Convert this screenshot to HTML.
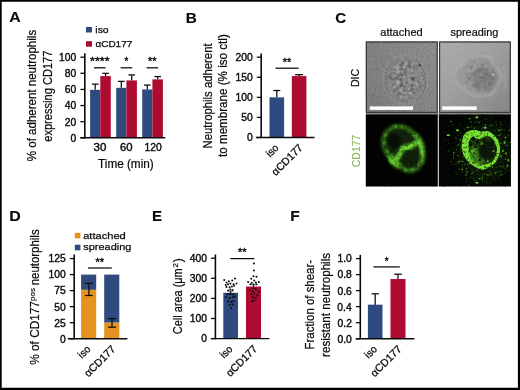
<!DOCTYPE html>
<html lang="en"><head><meta charset="utf-8"><title>Figure</title>
<style>
html,body{margin:0;padding:0;background:#fff;}
body{width:520px;height:390px;overflow:hidden;position:relative;}
svg{position:absolute;left:0;top:0;display:block;}
svg text{font-family:"Liberation Sans",sans-serif;fill:#0a0a0a;stroke:#0a0a0a;stroke-width:0.38px;}
</style></head><body>
<svg width="520" height="390" viewBox="0 0 520 390">
<rect x="0" y="0" width="520" height="390" fill="#fff"/>
<text x="9.2" y="21.9" font-size="15" textLength="11.43" lengthAdjust="spacingAndGlyphs" style="stroke-width:0.15px;" font-weight="bold">A</text>
<text x="185.81" y="22.7" font-size="15" textLength="11.04" lengthAdjust="spacingAndGlyphs" style="stroke-width:0.15px;" font-weight="bold">B</text>
<text x="335.19" y="22.9" font-size="15" textLength="11.03" lengthAdjust="spacingAndGlyphs" style="stroke-width:0.15px;" font-weight="bold">C</text>
<text x="9.36" y="220.8" font-size="15" textLength="11.51" lengthAdjust="spacingAndGlyphs" style="stroke-width:0.15px;" font-weight="bold">D</text>
<text x="152.12" y="220.6" font-size="15" textLength="10.03" lengthAdjust="spacingAndGlyphs" style="stroke-width:0.15px;" font-weight="bold">E</text>
<text x="290.29" y="220.6" font-size="15" textLength="9.46" lengthAdjust="spacingAndGlyphs" style="stroke-width:0.15px;" font-weight="bold">F</text>
<line x1="95.2" y1="84.12" x2="95.2" y2="89.84" stroke="#0a0a0a" stroke-width="1.25"/>
<line x1="91.9" y1="84.12" x2="98.5" y2="84.12" stroke="#0a0a0a" stroke-width="1.25"/>
<line x1="105.6" y1="73.32" x2="105.6" y2="76.06" stroke="#0a0a0a" stroke-width="1.25"/>
<line x1="102.3" y1="73.32" x2="108.9" y2="73.32" stroke="#0a0a0a" stroke-width="1.25"/>
<rect x="90.1" y="89.84" width="10.2" height="47.96" fill="#2f4a7e"/>
<rect x="100.3" y="76.06" width="10.5" height="61.74" fill="#ad0b30"/>
<line x1="121.3" y1="81.38" x2="121.3" y2="87.83" stroke="#0a0a0a" stroke-width="1.25"/>
<line x1="118" y1="81.38" x2="124.6" y2="81.38" stroke="#0a0a0a" stroke-width="1.25"/>
<line x1="131.7" y1="74.93" x2="131.7" y2="80.41" stroke="#0a0a0a" stroke-width="1.25"/>
<line x1="128.4" y1="74.93" x2="135" y2="74.93" stroke="#0a0a0a" stroke-width="1.25"/>
<rect x="116.2" y="87.83" width="10.2" height="49.97" fill="#2f4a7e"/>
<rect x="126.4" y="80.41" width="10.5" height="57.39" fill="#ad0b30"/>
<line x1="147.3" y1="85.09" x2="147.3" y2="89.44" stroke="#0a0a0a" stroke-width="1.25"/>
<line x1="144" y1="85.09" x2="150.6" y2="85.09" stroke="#0a0a0a" stroke-width="1.25"/>
<line x1="157.7" y1="76.54" x2="157.7" y2="79.37" stroke="#0a0a0a" stroke-width="1.25"/>
<line x1="154.4" y1="76.54" x2="161" y2="76.54" stroke="#0a0a0a" stroke-width="1.25"/>
<rect x="142.2" y="89.44" width="10.2" height="48.36" fill="#2f4a7e"/>
<rect x="152.4" y="79.37" width="10.5" height="58.44" fill="#ad0b30"/>
<line x1="84.8" y1="53.2" x2="84.8" y2="138.4" stroke="#0a0a0a" stroke-width="1.6"/>
<line x1="80.4" y1="137.8" x2="165.3" y2="137.8" stroke="#0a0a0a" stroke-width="1.45"/>
<line x1="80.4" y1="137.8" x2="84.8" y2="137.8" stroke="#0a0a0a" stroke-width="1.3"/>
<text x="70.54" y="141.66" font-size="10.3" textLength="5.73" lengthAdjust="spacingAndGlyphs">0</text>
<line x1="80.4" y1="121.68" x2="84.8" y2="121.68" stroke="#0a0a0a" stroke-width="1.3"/>
<text x="64.83" y="125.54" font-size="10.3" textLength="11.46" lengthAdjust="spacingAndGlyphs">20</text>
<line x1="80.4" y1="105.56" x2="84.8" y2="105.56" stroke="#0a0a0a" stroke-width="1.3"/>
<text x="64.83" y="109.42" font-size="10.3" textLength="11.46" lengthAdjust="spacingAndGlyphs">40</text>
<line x1="80.4" y1="89.44" x2="84.8" y2="89.44" stroke="#0a0a0a" stroke-width="1.3"/>
<text x="64.83" y="93.3" font-size="10.3" textLength="11.46" lengthAdjust="spacingAndGlyphs">60</text>
<line x1="80.4" y1="73.32" x2="84.8" y2="73.32" stroke="#0a0a0a" stroke-width="1.3"/>
<text x="64.83" y="77.18" font-size="10.3" textLength="11.46" lengthAdjust="spacingAndGlyphs">80</text>
<line x1="80.4" y1="57.2" x2="84.8" y2="57.2" stroke="#0a0a0a" stroke-width="1.3"/>
<text x="59.11" y="61.06" font-size="10.3" textLength="17.19" lengthAdjust="spacingAndGlyphs">100</text>
<text x="93.6" y="151" font-size="10.3" textLength="12.83" lengthAdjust="spacingAndGlyphs">30</text>
<text x="120.03" y="151" font-size="10.3" textLength="12.59" lengthAdjust="spacingAndGlyphs">60</text>
<text x="144.42" y="151" font-size="10.3" textLength="17.38" lengthAdjust="spacingAndGlyphs">120</text>
<text x="98.07" y="168" font-size="12.1" textLength="55.6" lengthAdjust="spacingAndGlyphs" style="stroke-width:0.22px;">Time (min)</text>
<line x1="94" y1="67.8" x2="105.6" y2="67.8" stroke="#0a0a0a" stroke-width="1.25"/>
<text x="90.11" y="65.4" font-size="10" textLength="19.39" lengthAdjust="spacingAndGlyphs" style="stroke-width:0.35px;">****</text>
<line x1="120.7" y1="67.8" x2="132.3" y2="67.8" stroke="#0a0a0a" stroke-width="1.25"/>
<text x="124.6" y="65.4" font-size="10" textLength="3.78" lengthAdjust="spacingAndGlyphs" style="stroke-width:0.35px;">*</text>
<line x1="146.5" y1="67.8" x2="158.1" y2="67.8" stroke="#0a0a0a" stroke-width="1.25"/>
<text x="148.04" y="65.4" font-size="10" textLength="8.51" lengthAdjust="spacingAndGlyphs" style="stroke-width:0.35px;">**</text>
<rect x="86" y="27" width="6" height="5.5" fill="#2f4a7e"/>
<text x="95.32" y="32.8" font-size="9.9" textLength="13.33" lengthAdjust="spacingAndGlyphs" style="stroke-width:0.25px;">iso</text>
<rect x="86" y="41.2" width="6" height="5.5" fill="#ad0b30"/>
<text x="95.4" y="47" font-size="9.9" textLength="36.91" lengthAdjust="spacingAndGlyphs" style="stroke-width:0.25px;">αCD177</text>
<text transform="translate(36.4 160.8) rotate(-90)" x="-0.4" y="0" font-size="12.1" textLength="131.33" lengthAdjust="spacingAndGlyphs" style="stroke-width:0.22px;">% of adherent neutrophils</text>
<text transform="translate(52.2 141.3) rotate(-90)" x="-0.44" y="0" font-size="12.1" textLength="91.12" lengthAdjust="spacingAndGlyphs" style="stroke-width:0.22px;">expressing CD177</text>
<line x1="276.8" y1="90.52" x2="276.8" y2="97.35" stroke="#0a0a0a" stroke-width="1.25"/>
<line x1="273.3" y1="90.52" x2="280.3" y2="90.52" stroke="#0a0a0a" stroke-width="1.25"/>
<rect x="269.5" y="97.35" width="14.6" height="40.15" fill="#2f4a7e"/>
<line x1="299.1" y1="74.67" x2="299.1" y2="76.07" stroke="#0a0a0a" stroke-width="1.25"/>
<line x1="295.1" y1="74.67" x2="303.1" y2="74.67" stroke="#0a0a0a" stroke-width="1.25"/>
<rect x="291.8" y="76.07" width="14.6" height="61.43" fill="#ad0b30"/>
<line x1="261.2" y1="53.5" x2="261.2" y2="138.1" stroke="#0a0a0a" stroke-width="1.6"/>
<line x1="255.9" y1="137.5" x2="314.5" y2="137.5" stroke="#0a0a0a" stroke-width="1.45"/>
<line x1="256.8" y1="137.5" x2="261.2" y2="137.5" stroke="#0a0a0a" stroke-width="1.3"/>
<text x="246.94" y="141.36" font-size="10.3" textLength="5.73" lengthAdjust="spacingAndGlyphs">0</text>
<line x1="256.8" y1="117.42" x2="261.2" y2="117.42" stroke="#0a0a0a" stroke-width="1.3"/>
<text x="241.23" y="121.29" font-size="10.3" textLength="11.46" lengthAdjust="spacingAndGlyphs">50</text>
<line x1="256.8" y1="97.35" x2="261.2" y2="97.35" stroke="#0a0a0a" stroke-width="1.3"/>
<text x="235.51" y="101.21" font-size="10.3" textLength="17.19" lengthAdjust="spacingAndGlyphs">100</text>
<line x1="256.8" y1="77.28" x2="261.2" y2="77.28" stroke="#0a0a0a" stroke-width="1.3"/>
<text x="235.51" y="81.14" font-size="10.3" textLength="17.19" lengthAdjust="spacingAndGlyphs">150</text>
<line x1="256.8" y1="57.2" x2="261.2" y2="57.2" stroke="#0a0a0a" stroke-width="1.3"/>
<text x="235.51" y="61.06" font-size="10.3" textLength="17.19" lengthAdjust="spacingAndGlyphs">200</text>
<line x1="275.5" y1="68.2" x2="298.6" y2="68.2" stroke="#0a0a0a" stroke-width="1.25"/>
<text x="282.79" y="65.8" font-size="10" textLength="8.51" lengthAdjust="spacingAndGlyphs" style="stroke-width:0.35px;">**</text>
<text transform="translate(279 148.9) rotate(-45)" x="-12.46" y="0" font-size="10.4" textLength="12.9" lengthAdjust="spacingAndGlyphs" style="stroke-width:0.28px;">iso</text>
<text transform="translate(303.1 148.9) rotate(-45)" x="-38.58" y="0" font-size="10.6" textLength="39.12" lengthAdjust="spacingAndGlyphs" style="stroke-width:0.28px;">αCD177</text>
<text transform="translate(211.9 147.6) rotate(-90)" x="-0.91" y="0" font-size="12.1" textLength="105.11" lengthAdjust="spacingAndGlyphs" style="stroke-width:0.22px;">Neutrophils adherent</text>
<text transform="translate(227.4 156.8) rotate(-90)" x="-0.17" y="0" font-size="12.1" textLength="122.72" lengthAdjust="spacingAndGlyphs" style="stroke-width:0.22px;">to membrane (% iso ctl)</text>
<rect x="81.1" y="274.6" width="15.1" height="15.26" fill="#2f4a7e"/>
<rect x="81.1" y="289.86" width="15.1" height="48.84" fill="#e5921f"/>
<rect x="104.2" y="274.6" width="15.1" height="48.07" fill="#2f4a7e"/>
<rect x="104.2" y="322.68" width="15.1" height="16.02" fill="#e5921f"/>
<line x1="88.9" y1="283.4" x2="88.9" y2="295.5" stroke="#0a0a0a" stroke-width="1.2"/>
<line x1="84.9" y1="283.4" x2="92.9" y2="283.4" stroke="#0a0a0a" stroke-width="1.2"/>
<line x1="84.9" y1="295.5" x2="92.9" y2="295.5" stroke="#0a0a0a" stroke-width="1.2"/>
<line x1="112" y1="318.7" x2="112" y2="327.2" stroke="#0a0a0a" stroke-width="1.2"/>
<line x1="108" y1="318.7" x2="116" y2="318.7" stroke="#0a0a0a" stroke-width="1.2"/>
<line x1="108" y1="327.2" x2="116" y2="327.2" stroke="#0a0a0a" stroke-width="1.2"/>
<line x1="74.2" y1="254.5" x2="74.2" y2="339.3" stroke="#0a0a0a" stroke-width="1.6"/>
<line x1="67.8" y1="338.7" x2="127.4" y2="338.7" stroke="#0a0a0a" stroke-width="1.45"/>
<line x1="69.8" y1="338.7" x2="74.2" y2="338.7" stroke="#0a0a0a" stroke-width="1.3"/>
<text x="59.94" y="342.56" font-size="10.3" textLength="5.73" lengthAdjust="spacingAndGlyphs">0</text>
<line x1="69.8" y1="322.68" x2="74.2" y2="322.68" stroke="#0a0a0a" stroke-width="1.3"/>
<text x="54.28" y="326.54" font-size="10.3" textLength="11.46" lengthAdjust="spacingAndGlyphs">25</text>
<line x1="69.8" y1="306.65" x2="74.2" y2="306.65" stroke="#0a0a0a" stroke-width="1.3"/>
<text x="54.23" y="310.51" font-size="10.3" textLength="11.46" lengthAdjust="spacingAndGlyphs">50</text>
<line x1="69.8" y1="290.62" x2="74.2" y2="290.62" stroke="#0a0a0a" stroke-width="1.3"/>
<text x="54.28" y="294.49" font-size="10.3" textLength="11.46" lengthAdjust="spacingAndGlyphs">75</text>
<line x1="69.8" y1="274.6" x2="74.2" y2="274.6" stroke="#0a0a0a" stroke-width="1.3"/>
<text x="48.51" y="278.46" font-size="10.3" textLength="17.19" lengthAdjust="spacingAndGlyphs">100</text>
<line x1="69.8" y1="258.58" x2="74.2" y2="258.58" stroke="#0a0a0a" stroke-width="1.3"/>
<text x="48.56" y="262.44" font-size="10.3" textLength="17.19" lengthAdjust="spacingAndGlyphs">125</text>
<line x1="87.9" y1="268" x2="111.8" y2="268" stroke="#0a0a0a" stroke-width="1.25"/>
<text x="95.59" y="265.6" font-size="10" textLength="8.51" lengthAdjust="spacingAndGlyphs" style="stroke-width:0.35px;">**</text>
<text transform="translate(90.9 350.1) rotate(-45)" x="-12.46" y="0" font-size="10.4" textLength="12.9" lengthAdjust="spacingAndGlyphs" style="stroke-width:0.28px;">iso</text>
<text transform="translate(115.8 350.1) rotate(-45)" x="-38.58" y="0" font-size="10.6" textLength="39.12" lengthAdjust="spacingAndGlyphs" style="stroke-width:0.28px;">αCD177</text>
<rect x="74.8" y="232.8" width="5.6" height="5.6" fill="#e5921f"/>
<text x="83.16" y="238.6" font-size="9.9" textLength="42.63" lengthAdjust="spacingAndGlyphs" style="stroke-width:0.25px;">attached</text>
<rect x="74.8" y="244.7" width="5.6" height="5.6" fill="#2f4a7e"/>
<text x="83.33" y="250" font-size="9.9" textLength="47.95" lengthAdjust="spacingAndGlyphs" style="stroke-width:0.25px;">spreading</text>
<text transform="translate(39.1 364.3) rotate(-90)" x="-0.41" y="0" font-size="12.1" textLength="63.62" lengthAdjust="spacingAndGlyphs" style="stroke-width:0.22px;">% of CD177</text>
<text transform="translate(34.8 300.4) rotate(-90)" x="-0.52" y="0" font-size="8.0" textLength="12.81" lengthAdjust="spacingAndGlyphs" style="stroke-width:0.15px;">pos</text>
<text transform="translate(39.1 284.6) rotate(-90)" x="-0.74" y="0" font-size="12.1" textLength="55.97" lengthAdjust="spacingAndGlyphs" style="stroke-width:0.22px;">neutorphils</text>
<rect x="223.3" y="292.77" width="14.7" height="45.83" fill="#2f4a7e"/>
<rect x="246" y="286.54" width="15" height="52.06" fill="#ad0b30"/>
<line x1="230.7" y1="291.16" x2="230.7" y2="294.38" stroke="#0a0a0a" stroke-width="0.8"/>
<line x1="228.7" y1="291.16" x2="232.7" y2="291.16" stroke="#0a0a0a" stroke-width="0.8"/>
<line x1="228.7" y1="294.38" x2="232.7" y2="294.38" stroke="#0a0a0a" stroke-width="0.8"/>
<line x1="253.5" y1="284.73" x2="253.5" y2="288.35" stroke="#0a0a0a" stroke-width="0.8"/>
<line x1="251.5" y1="284.73" x2="255.5" y2="284.73" stroke="#0a0a0a" stroke-width="0.8"/>
<line x1="251.5" y1="288.35" x2="255.5" y2="288.35" stroke="#0a0a0a" stroke-width="0.8"/>
<line x1="215.4" y1="254.5" x2="215.4" y2="339.2" stroke="#0a0a0a" stroke-width="1.6"/>
<line x1="210.8" y1="338.6" x2="269.4" y2="338.6" stroke="#0a0a0a" stroke-width="1.45"/>
<line x1="211" y1="338.6" x2="215.4" y2="338.6" stroke="#0a0a0a" stroke-width="1.3"/>
<text x="201.14" y="342.46" font-size="10.3" textLength="5.73" lengthAdjust="spacingAndGlyphs">0</text>
<line x1="211" y1="318.5" x2="215.4" y2="318.5" stroke="#0a0a0a" stroke-width="1.3"/>
<text x="189.71" y="322.36" font-size="10.3" textLength="17.19" lengthAdjust="spacingAndGlyphs">100</text>
<line x1="211" y1="298.4" x2="215.4" y2="298.4" stroke="#0a0a0a" stroke-width="1.3"/>
<text x="189.71" y="302.26" font-size="10.3" textLength="17.19" lengthAdjust="spacingAndGlyphs">200</text>
<line x1="211" y1="278.3" x2="215.4" y2="278.3" stroke="#0a0a0a" stroke-width="1.3"/>
<text x="189.71" y="282.16" font-size="10.3" textLength="17.19" lengthAdjust="spacingAndGlyphs">300</text>
<line x1="211" y1="258.2" x2="215.4" y2="258.2" stroke="#0a0a0a" stroke-width="1.3"/>
<text x="189.71" y="262.06" font-size="10.3" textLength="17.19" lengthAdjust="spacingAndGlyphs">400</text>
<line x1="230.4" y1="258.6" x2="254.3" y2="258.6" stroke="#0a0a0a" stroke-width="1.25"/>
<text x="238.09" y="256.2" font-size="10" textLength="8.51" lengthAdjust="spacingAndGlyphs" style="stroke-width:0.35px;">**</text>
<circle cx="224.2" cy="279.9" r="1" fill="#0a0a0a"/>
<circle cx="226.5" cy="282.4" r="1" fill="#0a0a0a"/>
<circle cx="228.8" cy="281.2" r="1" fill="#0a0a0a"/>
<circle cx="235.0" cy="278.4" r="1" fill="#0a0a0a"/>
<circle cx="232.2" cy="280.4" r="1" fill="#0a0a0a"/>
<circle cx="225.8" cy="285.0" r="1" fill="#0a0a0a"/>
<circle cx="228.1" cy="284.2" r="1" fill="#0a0a0a"/>
<circle cx="230.4" cy="283.5" r="1" fill="#0a0a0a"/>
<circle cx="233.5" cy="284.2" r="1" fill="#0a0a0a"/>
<circle cx="236.5" cy="283.5" r="1" fill="#0a0a0a"/>
<circle cx="226.5" cy="287.0" r="1" fill="#0a0a0a"/>
<circle cx="229.6" cy="287.3" r="1" fill="#0a0a0a"/>
<circle cx="231.9" cy="286.5" r="1" fill="#0a0a0a"/>
<circle cx="234.2" cy="285.8" r="1" fill="#0a0a0a"/>
<circle cx="230.4" cy="289.6" r="1" fill="#0a0a0a"/>
<circle cx="228.1" cy="290.4" r="1" fill="#0a0a0a"/>
<circle cx="232.7" cy="290.1" r="1" fill="#0a0a0a"/>
<circle cx="227.3" cy="294.2" r="1" fill="#0a0a0a"/>
<circle cx="230.4" cy="293.5" r="1" fill="#0a0a0a"/>
<circle cx="233.5" cy="294.2" r="1" fill="#0a0a0a"/>
<circle cx="225.8" cy="297.3" r="1" fill="#0a0a0a"/>
<circle cx="229.6" cy="298.1" r="1" fill="#0a0a0a"/>
<circle cx="232.7" cy="297.3" r="1" fill="#0a0a0a"/>
<circle cx="235.0" cy="296.5" r="1" fill="#0a0a0a"/>
<circle cx="228.1" cy="301.2" r="1" fill="#0a0a0a"/>
<circle cx="231.2" cy="301.9" r="1" fill="#0a0a0a"/>
<circle cx="233.5" cy="301.2" r="1" fill="#0a0a0a"/>
<circle cx="229.6" cy="305.0" r="1" fill="#0a0a0a"/>
<circle cx="232.7" cy="304.5" r="1" fill="#0a0a0a"/>
<circle cx="231.2" cy="308.1" r="1" fill="#0a0a0a"/>
<circle cx="253.9" cy="263.5" r="1" fill="#0a0a0a"/>
<circle cx="253.9" cy="270.4" r="1" fill="#0a0a0a"/>
<circle cx="253.5" cy="276.2" r="1" fill="#0a0a0a"/>
<circle cx="256.5" cy="276.8" r="1" fill="#0a0a0a"/>
<circle cx="251.2" cy="278.8" r="1" fill="#0a0a0a"/>
<circle cx="254.2" cy="280.4" r="1" fill="#0a0a0a"/>
<circle cx="248.1" cy="281.9" r="1" fill="#0a0a0a"/>
<circle cx="251.9" cy="282.7" r="1" fill="#0a0a0a"/>
<circle cx="255.8" cy="282.4" r="1" fill="#0a0a0a"/>
<circle cx="258.8" cy="281.9" r="1" fill="#0a0a0a"/>
<circle cx="250.4" cy="284.2" r="1" fill="#0a0a0a"/>
<circle cx="253.5" cy="284.5" r="1" fill="#0a0a0a"/>
<circle cx="256.5" cy="284.2" r="1" fill="#0a0a0a"/>
<circle cx="249.6" cy="290.4" r="1" fill="#0a0a0a"/>
<circle cx="252.7" cy="291.2" r="1" fill="#0a0a0a"/>
<circle cx="255.8" cy="289.6" r="1" fill="#0a0a0a"/>
<circle cx="258.8" cy="291.9" r="1" fill="#0a0a0a"/>
<circle cx="251.2" cy="294.2" r="1" fill="#0a0a0a"/>
<circle cx="254.2" cy="293.5" r="1" fill="#0a0a0a"/>
<circle cx="257.3" cy="295.0" r="1" fill="#0a0a0a"/>
<circle cx="252.7" cy="297.3" r="1" fill="#0a0a0a"/>
<circle cx="255.8" cy="297.8" r="1" fill="#0a0a0a"/>
<circle cx="254.2" cy="300.4" r="1" fill="#0a0a0a"/>
<circle cx="251.9" cy="301.2" r="1" fill="#0a0a0a"/>
<text transform="translate(232.9 350) rotate(-45)" x="-12.46" y="0" font-size="10.4" textLength="12.9" lengthAdjust="spacingAndGlyphs" style="stroke-width:0.28px;">iso</text>
<text transform="translate(257.5 350) rotate(-45)" x="-38.58" y="0" font-size="10.6" textLength="39.12" lengthAdjust="spacingAndGlyphs" style="stroke-width:0.28px;">αCD177</text>
<text transform="translate(182 333.6) rotate(-90)" x="-0.55" y="0" font-size="12.1" textLength="65.83" lengthAdjust="spacingAndGlyphs" style="stroke-width:0.22px;">Cell area (μm</text>
<text transform="translate(177.6 267.4) rotate(-90)" x="-0.43" y="0" font-size="7.4" textLength="4.77" lengthAdjust="spacingAndGlyphs" style="stroke-width:0.15px;">2</text>
<text transform="translate(182 262.1) rotate(-90)" x="-0.06" y="0" font-size="12.1" textLength="4.02" lengthAdjust="spacingAndGlyphs" style="stroke-width:0.22px;">)</text>
<line x1="375.2" y1="293.84" x2="375.2" y2="305.06" stroke="#0a0a0a" stroke-width="1.25"/>
<line x1="371.5" y1="293.84" x2="378.9" y2="293.84" stroke="#0a0a0a" stroke-width="1.25"/>
<rect x="367.9" y="304.66" width="14.6" height="34.04" fill="#2f4a7e"/>
<line x1="398" y1="274.22" x2="398" y2="279.43" stroke="#0a0a0a" stroke-width="1.25"/>
<line x1="394.2" y1="274.22" x2="401.8" y2="274.22" stroke="#0a0a0a" stroke-width="1.25"/>
<rect x="390.5" y="279.03" width="15" height="59.67" fill="#ad0b30"/>
<line x1="360.3" y1="254.8" x2="360.3" y2="339.3" stroke="#0a0a0a" stroke-width="1.6"/>
<line x1="355.8" y1="338.7" x2="414.4" y2="338.7" stroke="#0a0a0a" stroke-width="1.45"/>
<line x1="355.9" y1="338.7" x2="360.3" y2="338.7" stroke="#0a0a0a" stroke-width="1.3"/>
<text x="337.44" y="342.56" font-size="10.3" textLength="14.32" lengthAdjust="spacingAndGlyphs">0.0</text>
<line x1="355.9" y1="322.68" x2="360.3" y2="322.68" stroke="#0a0a0a" stroke-width="1.3"/>
<text x="337.6" y="326.54" font-size="10.3" textLength="14.32" lengthAdjust="spacingAndGlyphs">0.2</text>
<line x1="355.9" y1="306.66" x2="360.3" y2="306.66" stroke="#0a0a0a" stroke-width="1.3"/>
<text x="337.34" y="310.52" font-size="10.3" textLength="14.32" lengthAdjust="spacingAndGlyphs">0.4</text>
<line x1="355.9" y1="290.64" x2="360.3" y2="290.64" stroke="#0a0a0a" stroke-width="1.3"/>
<text x="337.5" y="294.5" font-size="10.3" textLength="14.32" lengthAdjust="spacingAndGlyphs">0.6</text>
<line x1="355.9" y1="274.62" x2="360.3" y2="274.62" stroke="#0a0a0a" stroke-width="1.3"/>
<text x="337.5" y="278.48" font-size="10.3" textLength="14.32" lengthAdjust="spacingAndGlyphs">0.8</text>
<line x1="355.9" y1="258.6" x2="360.3" y2="258.6" stroke="#0a0a0a" stroke-width="1.3"/>
<text x="337.44" y="262.46" font-size="10.3" textLength="14.32" lengthAdjust="spacingAndGlyphs">1.0</text>
<line x1="373.4" y1="266.9" x2="399.8" y2="266.9" stroke="#0a0a0a" stroke-width="1.25"/>
<text x="384.7" y="264.5" font-size="10" textLength="3.78" lengthAdjust="spacingAndGlyphs" style="stroke-width:0.35px;">*</text>
<text transform="translate(377.4 350.1) rotate(-45)" x="-12.46" y="0" font-size="10.4" textLength="12.9" lengthAdjust="spacingAndGlyphs" style="stroke-width:0.28px;">iso</text>
<text transform="translate(402 350.1) rotate(-45)" x="-38.58" y="0" font-size="10.6" textLength="39.12" lengthAdjust="spacingAndGlyphs" style="stroke-width:0.28px;">αCD177</text>
<text transform="translate(314.3 348.5) rotate(-90)" x="-0.91" y="0" font-size="12.1" textLength="89.39" lengthAdjust="spacingAndGlyphs" style="stroke-width:0.22px;">Fraction of shear-</text>
<text transform="translate(330.3 356.2) rotate(-90)" x="-0.76" y="0" font-size="12.1" textLength="104.06" lengthAdjust="spacingAndGlyphs" style="stroke-width:0.22px;">resistant neutrophils</text>
<text x="380.36" y="35.7" font-size="10.6" textLength="42.32" lengthAdjust="spacingAndGlyphs" style="stroke-width:0.2px;">attached</text>
<text x="450.53" y="35.7" font-size="10.6" textLength="47.75" lengthAdjust="spacingAndGlyphs" style="stroke-width:0.2px;">spreading</text>
<text transform="translate(359.3 86.2) rotate(-90)" x="-0.85" y="0" font-size="10.0" textLength="18.24" lengthAdjust="spacingAndGlyphs" style="stroke-width:0.2px;">DIC</text>
<text transform="translate(359.7 166.7) rotate(-90)" x="-0.52" y="0" font-size="10.0" textLength="32.58" lengthAdjust="spacingAndGlyphs" style="fill:#8ab45c;stroke:#8ab45c;stroke-width:0.12px;">CD177</text>
<rect x="365.8" y="112.9" width="145.1" height="1.5" fill="#8a8a8a"/><rect x="437.8" y="114.3" width="1.2" height="72.2" fill="#c4c4c4"/>
<defs>
<filter color-interpolation-filters="sRGB" id="nz" x="0" y="0" width="100%" height="100%"><feTurbulence type="fractalNoise" baseFrequency="0.55" numOctaves="2" seed="3"/><feColorMatrix type="matrix" values="0 0 0 0 0  0 0 0 0 0  0 0 0 0 0  2.2 0 0 0 -1.1"/></filter>
<filter color-interpolation-filters="sRGB" id="nzw" x="0" y="0" width="100%" height="100%"><feTurbulence type="fractalNoise" baseFrequency="0.55" numOctaves="2" seed="8"/><feColorMatrix type="matrix" values="0 0 0 0 1  0 0 0 0 1  0 0 0 0 1  0 2.2 0 0 -1.1"/></filter>
<filter color-interpolation-filters="sRGB" id="md" x="-10%" y="-10%" width="120%" height="120%"><feTurbulence type="fractalNoise" baseFrequency="0.3" numOctaves="2" seed="5"/><feColorMatrix type="matrix" values="0 0 0 0 0.3  0 0 0 0 0.3  0 0 0 0 0.3  3 0 0 0 -1.35"/><feGaussianBlur stdDeviation="0.5"/></filter>
<filter color-interpolation-filters="sRGB" id="ml" x="-10%" y="-10%" width="120%" height="120%"><feTurbulence type="fractalNoise" baseFrequency="0.3" numOctaves="2" seed="21"/><feColorMatrix type="matrix" values="0 0 0 0 0.78  0 0 0 0 0.78  0 0 0 0 0.78  0 3 0 0 -1.35"/><feGaussianBlur stdDeviation="0.5"/></filter>
<filter color-interpolation-filters="sRGB" id="gsp" x="0" y="0" width="100%" height="100%"><feTurbulence type="fractalNoise" baseFrequency="0.45" numOctaves="2" seed="4"/><feColorMatrix type="matrix" values="0 0 0 0 0  0 0 0 0 0.02  0 0 0 0 0  5 0 0 0 -2.5"/></filter>
<filter color-interpolation-filters="sRGB" id="mg1" x="-10%" y="-10%" width="120%" height="120%"><feTurbulence type="fractalNoise" baseFrequency="0.26" numOctaves="2" seed="14"/><feColorMatrix type="matrix" values="0.95 0 0 0 0.04  0.95 0 0 0 0.04  0.95 0 0 0 0.04  0 0 0 0 1"/><feGaussianBlur stdDeviation="0.45"/></filter>
<filter color-interpolation-filters="sRGB" id="gsn" x="0" y="0" width="100%" height="100%"><feTurbulence type="fractalNoise" baseFrequency="0.38" numOctaves="2" seed="9"/><feColorMatrix type="matrix" values="0 0 0 0 0.38  0 0 0 0 0.78  0 0 0 0 0.16  0 7 0 0 -4.35"/><feGaussianBlur stdDeviation="0.35"/></filter>
<filter color-interpolation-filters="sRGB" id="b03" x="-20%" y="-20%" width="140%" height="140%"><feGaussianBlur stdDeviation="0.35"/></filter>
<filter color-interpolation-filters="sRGB" id="b05" x="-20%" y="-20%" width="140%" height="140%"><feGaussianBlur stdDeviation="0.6"/></filter>
<filter color-interpolation-filters="sRGB" id="b1" x="-20%" y="-20%" width="140%" height="140%"><feGaussianBlur stdDeviation="1.0"/></filter>
<filter color-interpolation-filters="sRGB" id="b15" x="-30%" y="-30%" width="160%" height="160%"><feGaussianBlur stdDeviation="1.6"/></filter>
<filter color-interpolation-filters="sRGB" id="b2" x="-30%" y="-30%" width="160%" height="160%"><feGaussianBlur stdDeviation="2.4"/></filter>
<filter color-interpolation-filters="sRGB" id="b4" x="-50%" y="-50%" width="200%" height="200%"><feGaussianBlur stdDeviation="5"/></filter>
<linearGradient id="g1" x1="0" y1="0.8" x2="1" y2="0.2"><stop offset="0" stop-color="#7c7c7c"/><stop offset="0.55" stop-color="#858585"/><stop offset="1" stop-color="#8c8c8c"/></linearGradient>
<linearGradient id="g2" x1="0" y1="0" x2="1" y2="1"><stop offset="0" stop-color="#adadad"/><stop offset="0.45" stop-color="#a0a0a0"/><stop offset="1" stop-color="#858585"/></linearGradient>
<radialGradient id="hz" cx="0.58" cy="0.5" r="0.6"><stop offset="0" stop-color="#1a3310"/><stop offset="0.55" stop-color="#0e1c09"/><stop offset="1" stop-color="#030603"/></radialGradient>
<radialGradient id="mg" cx="0.6" cy="0.48" r="0.62"><stop offset="0" stop-color="#fff"/><stop offset="0.55" stop-color="#bbb"/><stop offset="1" stop-color="#000"/></radialGradient>
<mask id="m4"><rect x="439" y="114.3" width="71.9" height="72.2" fill="url(#mg)"/></mask>
<radialGradient id="mc" cx="0.5" cy="0.5" r="0.5"><stop offset="0" stop-color="#fff"/><stop offset="0.6" stop-color="#eee"/><stop offset="1" stop-color="#000"/></radialGradient>
<mask id="mc1"><ellipse cx="405.2" cy="79.6" rx="21" ry="24" fill="url(#mc)"/></mask>
<mask id="mc2"><circle cx="480" cy="76.5" r="20" fill="url(#mc)"/></mask>
<clipPath id="c1"><rect x="365.8" y="41.4" width="72" height="71.6"/></clipPath>
<clipPath id="c2"><rect x="439" y="41.4" width="71.9" height="71.6"/></clipPath>
<clipPath id="c3"><rect x="365.8" y="114.3" width="72" height="72.2"/></clipPath>
<clipPath id="c4"><rect x="439" y="114.3" width="71.9" height="72.2"/></clipPath>
<clipPath id="cc1"><circle cx="404.8" cy="79.8" r="18.5"/></clipPath>
<clipPath id="cc2"><circle cx="481.6" cy="77.5" r="17"/></clipPath>
</defs>
<rect x="365.8" y="41.4" width="72" height="71.6" fill="url(#g1)"/>
<g clip-path="url(#c1)">
<ellipse cx="405.2" cy="79.6" rx="21.6" ry="24.6" fill="none" stroke="#939393" stroke-width="1.8" filter="url(#b1)"/>
<g mask="url(#mc1)"><rect x="382" y="53" width="48" height="54" filter="url(#mg1)" opacity="0.6"/></g>
<path d="M416 59 Q426 69 425.6 82 Q425 94 417 101" fill="none" stroke="#6e6e6e" stroke-width="1.0" filter="url(#b05)"/>
<path d="M393 60 Q384.5 70 384.8 82 Q385.5 94 393 101" fill="none" stroke="#777" stroke-width="0.9" filter="url(#b05)"/>
<circle cx="419.6" cy="65.2" r="1" fill="#2c2c2c" filter="url(#b03)"/>
<rect x="365.8" y="41.4" width="72" height="71.6" filter="url(#nz)" opacity="0.2"/>
<rect x="365.8" y="41.4" width="72" height="71.6" filter="url(#nzw)" opacity="0.16"/>
</g>
<rect x="366.4" y="42" width="70.8" height="70.4" fill="none" stroke="#383838" stroke-width="1.2"/>
<rect x="369.8" y="106.4" width="43.2" height="3.5" fill="#fff"/>
<rect x="439" y="41.4" width="71.9" height="71.6" fill="url(#g2)"/>
<g clip-path="url(#c2)">
<path d="M501.8 75.5C502.1 77.7 500.0 80.2 499.0 82.4C497.9 84.6 496.7 86.5 495.4 88.7C494.0 90.8 492.9 94.1 490.8 95.2C488.6 96.4 485.0 95.3 482.3 95.5C479.6 95.6 477.0 96.6 474.6 96.1C472.2 95.6 470.0 93.8 468.0 92.4C466.0 91.0 464.4 89.5 462.6 87.9C460.8 86.3 458.5 84.7 457.3 82.7C456.0 80.6 455.1 77.9 455.1 75.5C455.2 73.1 456.0 70.3 457.4 68.4C458.9 66.4 462.1 65.8 463.7 63.9C465.3 62.1 465.3 58.3 467.2 57.2C469.1 56.1 472.6 57.5 475.0 57.3C477.5 57.1 479.7 56.3 482.2 56.2C484.6 56.2 488.2 55.6 490.0 56.9C491.9 58.2 491.9 62.1 493.0 64.2C494.2 66.2 495.6 67.3 497.1 69.2C498.5 71.1 501.4 73.3 501.8 75.5Z" fill="#9b9b9b" stroke="#b2b2b2" stroke-width="1.3" filter="url(#b1)"/>
<ellipse cx="484.5" cy="78.5" rx="12" ry="13" fill="#767676" opacity="0.85" filter="url(#b2)"/>
<g mask="url(#mc2)"><rect x="458" y="53" width="47" height="47" filter="url(#mg1)" opacity="0.3"/></g>
<circle cx="493.2" cy="74.5" r="1.1" fill="#c9c9c9" filter="url(#b03)"/>
<path d="M503 66 Q506.5 72 504.5 78 Q507 84 504.5 91" fill="none" stroke="#aaa" stroke-width="1.0" filter="url(#b1)"/>
<rect x="439" y="41.4" width="71.9" height="71.6" filter="url(#nz)" opacity="0.08"/>
<rect x="439" y="41.4" width="71.9" height="71.6" filter="url(#nzw)" opacity="0.1"/>
</g>
<rect x="439.6" y="42" width="70.7" height="70.4" fill="none" stroke="#383838" stroke-width="1.2"/>
<rect x="442.2" y="106.4" width="34.5" height="3.5" fill="#fff"/>
<rect x="365.8" y="114.3" width="72" height="72.2" fill="#020302"/>
<g clip-path="url(#c3)">
<path d="M395.1 125.4C398.2 124.7 402.0 125.3 405.1 126.5C408.2 127.6 410.9 130.0 413.5 132.2C416.2 134.3 419.2 136.9 420.9 139.5C422.7 142.2 423.4 145.2 424.0 148.0C424.6 150.8 424.6 153.8 424.3 156.5C424.0 159.2 423.3 161.9 422.0 164.2C420.7 166.4 418.7 168.7 416.6 170.0C414.6 171.3 412.1 172.2 409.7 172.2C407.3 172.1 404.4 170.9 402.0 169.5C399.6 168.2 397.4 166.0 395.1 163.8C392.8 161.7 390.2 159.2 388.2 156.5C386.2 153.7 384.0 150.3 383.1 147.2C382.1 144.2 381.9 140.8 382.5 138.0C383.1 135.2 384.5 132.4 386.6 130.3C388.7 128.2 392.0 126.0 395.1 125.4Z" fill="#13260b" stroke="#1f440e" stroke-width="3" filter="url(#b15)"/>
<path d="M387.4 131.1C386.8 132.2 384.5 135.3 384.0 138.0C383.5 140.7 383.5 144.3 384.3 147.2C385.1 150.2 386.8 153.1 388.6 155.7C390.4 158.3 394.0 161.7 395.1 162.9" fill="none" stroke="#306a16" stroke-width="3.2" filter="url(#b15)"/>
<path d="M388.2 130.6C389.3 130.0 392.4 127.4 395.1 126.9C397.8 126.4 401.4 126.6 404.3 127.5C407.2 128.5 411.0 131.8 412.3 132.6" fill="none" stroke="#36781a" stroke-width="2.8" filter="url(#b15)"/>
<path d="M413.2 133.4C414.3 134.5 417.9 137.9 419.4 140.3C420.9 142.7 421.6 145.3 422.2 148.0C422.7 150.7 422.8 153.8 422.5 156.5C422.2 159.1 420.7 162.6 420.3 163.8" fill="none" stroke="#5cbc28" stroke-width="3.8" filter="url(#b15)"/>
<path d="M418.2 167.5C416.9 168.0 413.0 170.2 410.5 170.3C407.9 170.4 405.1 169.2 402.8 168.2C400.5 167.1 397.6 164.6 396.6 163.8" fill="none" stroke="#387c1a" stroke-width="3.0" filter="url(#b15)"/>
<path d="M391.2 163.4C392.1 162.6 395.1 160.6 396.6 158.8C398.2 157.0 399.3 154.5 400.5 152.6C401.6 150.7 401.9 148.6 403.5 147.5C405.2 146.5 408.3 147.3 410.5 146.5C412.6 145.6 415.0 143.5 416.6 142.6C418.2 141.7 419.4 141.3 420.0 141.1" fill="none" stroke="#4ea822" stroke-width="5.5" filter="url(#b15)"/>
<path d="M389.7 154.9C390.3 156.1 391.9 159.9 393.5 161.8C395.2 163.8 398.7 165.7 399.7 166.5" fill="none" stroke="#4ea822" stroke-width="6" filter="url(#b15)"/>
<ellipse cx="394.0" cy="141.1" rx="7" ry="8" fill="#081005" filter="url(#b15)" transform="rotate(-30 394.0 141.1)"/>
<ellipse cx="411.2" cy="159.2" rx="7.5" ry="7" fill="#11220a" filter="url(#b15)"/>
<path d="M401.5 146.9C402.3 147.1 404.5 148.3 406.2 148.2C407.8 148.0 409.6 146.9 411.2 146.0C412.8 145.1 415.1 143.2 415.8 142.6" fill="none" stroke="#86ec42" stroke-width="2.8" filter="url(#b1)"/>
<path d="M417.8 141.1C418.4 142.2 420.6 145.7 421.2 148.0C421.9 150.3 421.7 153.8 421.8 154.9" fill="none" stroke="#84e840" stroke-width="2.4" filter="url(#b1)"/>
<path d="M402.0 148.8C401.6 149.8 400.5 152.9 399.4 154.9C398.2 157.0 395.8 160.1 395.1 161.1" fill="none" stroke="#72d634" stroke-width="2.6" filter="url(#b1)"/>
<path d="M390.2 158.3C390.7 159.1 392.2 161.9 393.5 162.9C394.9 163.9 397.4 163.9 398.2 164.2" fill="none" stroke="#78dc38" stroke-width="2.6" filter="url(#b1)"/>
<circle cx="395.1" cy="126.5" r="1.6" fill="#58b829" filter="url(#b1)"/>
<circle cx="402.0" cy="126.9" r="1.5" fill="#58b829" filter="url(#b1)"/>
<circle cx="385.8" cy="134.9" r="1.5" fill="#58b829" filter="url(#b1)"/>
<circle cx="384.6" cy="142.6" r="1.4000000000000001" fill="#58b829" filter="url(#b1)"/>
<circle cx="405.1" cy="170.0" r="1.5" fill="#58b829" filter="url(#b1)"/>
<circle cx="412.3" cy="170.0" r="1.5" fill="#58b829" filter="url(#b1)"/>
<circle cx="418.9" cy="164.9" r="1.5" fill="#58b829" filter="url(#b1)"/>
<circle cx="387.4" cy="151.8" r="1.5" fill="#58b829" filter="url(#b1)"/>
<rect x="365.8" y="114.3" width="72" height="72.2" filter="url(#gsp)" opacity="0.4"/>
</g>
<rect x="439" y="114.3" width="71.9" height="72.2" fill="#030503"/>
<g clip-path="url(#c4)">
<ellipse cx="484" cy="152" rx="27" ry="30" fill="#0d1a08" filter="url(#b4)"/>
<g mask="url(#m4)"><rect x="439" y="114.3" width="71.9" height="72.2" filter="url(#gsn)" opacity="0.8"/></g>
<path d="M471.4 130.2C473.1 129.9 475.2 130.0 476.9 130.2C478.6 130.5 480.0 131.6 481.5 131.7C483.1 131.8 484.6 130.9 486.2 131.0C487.7 131.1 488.9 131.1 490.8 132.5C492.6 133.8 495.7 136.3 497.2 138.9C498.8 141.5 499.8 145.2 500.0 148.2C500.2 151.1 499.6 153.9 498.7 156.5C497.8 159.0 496.2 161.6 494.5 163.5C492.7 165.4 490.2 166.9 488.0 167.9C485.8 168.9 483.8 169.6 481.5 169.4C479.2 169.2 476.5 168.0 474.2 166.6C471.8 165.2 469.5 163.2 467.7 161.1C465.8 158.9 464.1 156.3 463.1 153.7C462.1 151.1 461.6 148.2 461.6 145.4C461.6 142.6 462.2 139.3 463.1 137.1C463.9 134.9 465.4 133.2 466.8 132.1C468.2 131.0 469.7 130.6 471.4 130.2Z" fill="#78e434" filter="url(#b05)"/>
<path d="M473.6 137.6C475.1 137.8 477.8 139.3 479.7 139.1C481.6 138.9 483.3 136.8 485.2 136.5C487.1 136.2 489.4 136.0 491.1 137.3C492.8 138.5 494.5 141.8 495.4 143.9C496.3 146.0 496.8 147.7 496.7 150.0C496.6 152.3 495.9 155.8 494.8 157.9C493.8 160.1 492.5 161.6 490.4 162.7C488.3 163.8 484.9 164.8 482.5 164.6C480.0 164.3 477.7 162.7 475.8 161.3C474.0 159.8 472.6 157.8 471.4 155.7C470.2 153.7 469.2 151.4 468.8 149.1C468.4 146.8 468.7 143.8 469.0 142.1C469.3 140.3 469.9 139.1 470.6 138.4C471.4 137.6 472.1 137.5 473.6 137.6Z" fill="#1c3a0d" filter="url(#b05)"/>
<ellipse cx="474.7" cy="153.7" rx="4.5" ry="8" fill="#3f8a1c" filter="url(#b15)"/>
<ellipse cx="479.7" cy="161.1" rx="7" ry="3.5" fill="#3a7f1a" filter="url(#b15)"/>
<ellipse cx="487.1" cy="150.0" rx="8.5" ry="10" fill="#0f1a0a" filter="url(#b15)"/>
<circle cx="473.2" cy="138.4" r="1.9" fill="#0a1406" filter="url(#b03)"/>
<circle cx="470.5" cy="144.5" r="1.6" fill="#0a1406" filter="url(#b03)"/>
<circle cx="477.5" cy="141.7" r="1.5" fill="#0a1406" filter="url(#b03)"/>
<circle cx="475.1" cy="146.9" r="1.2" fill="#0a1406" filter="url(#b03)"/>
<circle cx="492.6" cy="141.7" r="1.6" fill="#0a1406" filter="url(#b03)"/>
<circle cx="490.8" cy="156.1" r="1.5" fill="#0a1406" filter="url(#b03)"/>
<circle cx="479.7" cy="159.8" r="1.4" fill="#0a1406" filter="url(#b03)"/>
<circle cx="484.3" cy="139.8" r="1.5" fill="#0a1406" filter="url(#b03)"/>
<circle cx="472.3" cy="150.9" r="1.5" fill="#5cc026" filter="url(#b05)"/>
<circle cx="474.2" cy="155.5" r="1.4" fill="#5cc026" filter="url(#b05)"/>
<circle cx="476.9" cy="160.2" r="1.3" fill="#5cc026" filter="url(#b05)"/>
<circle cx="477.8" cy="136.2" r="1.2" fill="#5cc026" filter="url(#b05)"/>
<circle cx="481.5" cy="143.5" r="1.2" fill="#5cc026" filter="url(#b05)"/>
<circle cx="488.0" cy="161.1" r="1.2" fill="#5cc026" filter="url(#b05)"/>
<circle cx="493.5" cy="150.9" r="1.0" fill="#5cc026" filter="url(#b05)"/>
<rect x="439" y="114.3" width="71.9" height="72.2" filter="url(#gsp)" opacity="0.5"/>
<ellipse cx="476.9" cy="117.3" rx="1.5" ry="1.1" fill="#7ad63c" filter="url(#b05)"/>
<ellipse cx="457.5" cy="130.2" rx="1.5" ry="1.0" fill="#7ad63c" filter="url(#b05)"/>
<ellipse cx="448.3" cy="135.2" rx="1.6" ry="0.9" fill="#7ad63c" filter="url(#b05)"/>
<ellipse cx="467.7" cy="127.3" rx="1.2" ry="0.9" fill="#4a8f22" filter="url(#b05)"/>
<ellipse cx="485.2" cy="127.8" rx="1.3" ry="1.0" fill="#7ad63c" filter="url(#b05)"/>
<ellipse cx="469.5" cy="118.6" rx="1.0" ry="0.8" fill="#4a8f22" filter="url(#b05)"/>
<ellipse cx="504.6" cy="142.6" rx="1.2" ry="1.8" fill="#4a8f22" filter="url(#b05)"/>
<ellipse cx="505.5" cy="137.6" rx="1.0" ry="1.0" fill="#4a8f22" filter="url(#b05)"/>
<ellipse cx="508.3" cy="160.2" rx="1.0" ry="1.6" fill="#4a8f22" filter="url(#b05)"/>
<ellipse cx="453.8" cy="152.8" rx="1.0" ry="0.8" fill="#4a8f22" filter="url(#b05)"/>
<ellipse cx="458.5" cy="162.0" rx="1.0" ry="0.8" fill="#4a8f22" filter="url(#b05)"/>
<ellipse cx="462.2" cy="169.4" rx="1.0" ry="0.8" fill="#4a8f22" filter="url(#b05)"/>
<ellipse cx="476.9" cy="182.7" rx="1.4" ry="1.0" fill="#7ad63c" filter="url(#b05)"/>
<ellipse cx="479.7" cy="178.6" rx="1.1" ry="0.9" fill="#4a8f22" filter="url(#b05)"/>
<ellipse cx="495.4" cy="173.1" rx="1.0" ry="0.8" fill="#4a8f22" filter="url(#b05)"/>
<ellipse cx="499.1" cy="130.6" rx="1.1" ry="0.8" fill="#4a8f22" filter="url(#b05)"/>
<ellipse cx="451.1" cy="121.4" rx="0.9" ry="0.7" fill="#4a8f22" filter="url(#b05)"/>
<ellipse cx="465.8" cy="174.9" rx="0.9" ry="0.7" fill="#4a8f22" filter="url(#b05)"/>
<ellipse cx="502.8" cy="150.9" rx="1.0" ry="1.3" fill="#4a8f22" filter="url(#b05)"/>
<ellipse cx="507.4" cy="165.7" rx="0.9" ry="1.2" fill="#4a8f22" filter="url(#b05)"/>
<ellipse cx="491.7" cy="125.1" rx="0.9" ry="0.7" fill="#4a8f22" filter="url(#b05)"/>
<ellipse cx="460.3" cy="139.8" rx="0.9" ry="0.7" fill="#4a8f22" filter="url(#b05)"/>
<ellipse cx="500.9" cy="174.9" rx="0.9" ry="0.7" fill="#4a8f22" filter="url(#b05)"/>
<ellipse cx="488.0" cy="174.9" rx="0.9" ry="0.7" fill="#4a8f22" filter="url(#b05)"/>
</g>
<path d="M0 0H520V390H0Z M1.7 1.7V387.7H517.9V1.7Z" fill="#000" fill-rule="evenodd"/>
</svg>
</body></html>
